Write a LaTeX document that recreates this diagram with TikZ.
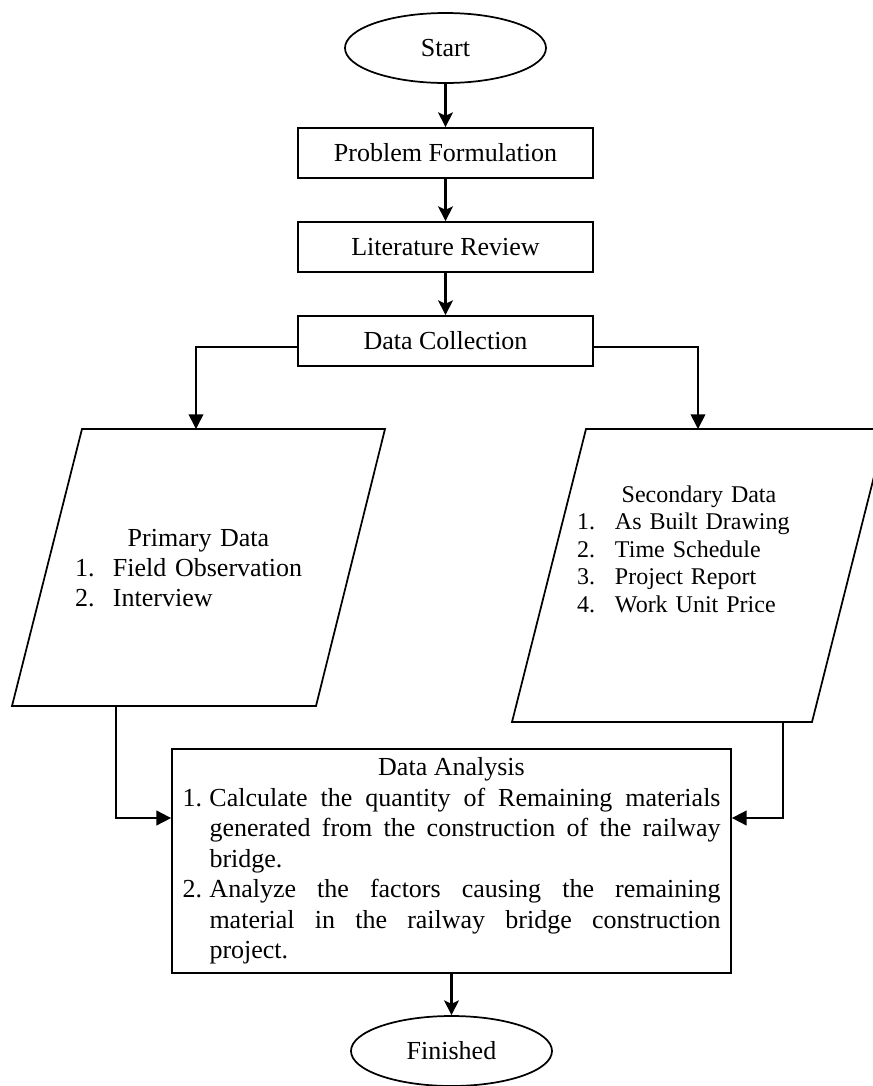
\documentclass[tikz,border=0pt]{standalone}
\usepackage{fontspec}
\setmainfont{Liberation Serif}
\usetikzlibrary{arrows.meta,shapes.geometric,calc}
\setlength{\parindent}{0pt}
\hyphenpenalty=10000
\tolerance=10000

\tikzset{
  flowbox/.style={draw,line width=1.3pt,rectangle,minimum width=221.25pt,minimum height=37.5pt,inner sep=0pt,font=\fontsize{19.5}{22.9}\selectfont},
  terminal/.style={draw,line width=1.3pt,ellipse,minimum width=150.75pt,minimum height=52.5pt,inner sep=0pt,font=\fontsize{19.5}{22.9}\selectfont},
  datashape/.style={line width=1.3pt,line join=miter},
  mainarrow/.style={line width=2pt,-{Stealth[length=11pt,width=11pt,inset=2.5pt]}},
  elbowarrow/.style={line width=1.3pt,-{Triangle[length=11pt,width=11pt]}},
}

\begin{document}
\begin{tikzpicture}[x=0.75pt,y=0.75pt,yscale=-1,xscale=1]
\useasboundingbox (0,0) rectangle (873,1086);
\clip (0,0) rectangle (873,1086);
\node [terminal] (start) at (445.5,48) {Start};
\node [flowbox] (problem) at (445.5,153) {Problem Formulation};
\node [flowbox] (literature) at (445.5,247) {Literature Review};
\node [flowbox] (collection) at (445.5,341) {Data Collection};
\draw [datashape] (82,429) -- (385,429) -- (316,706) -- (12,706) -- cycle;
\draw [datashape] (586,429) -- (886,429) -- (812,722) -- (512,722) -- cycle;
\coordinate (primin) at (196,429);
\coordinate (primout) at (116,706);
\coordinate (secin) at (698,429);
\coordinate (secout) at (783,722);
\node [text width=185.25pt,inner sep=0pt,font=\fontsize{19.5}{22.5}\selectfont] (primary) at (198.5,568.4) {{\centering Primary Data\par}
\makebox[28.5pt][l]{1.}Field Observation\par
\makebox[28.5pt][l]{2.}Interview};
\node [text width=183pt,inner sep=0pt,font=\fontsize{18}{20.6}\selectfont] (secondary) at (699,549) {{\centering Secondary Data\par}
\makebox[28.5pt][l]{1.}As Built Drawing\par
\makebox[28.5pt][l]{2.}Time Schedule\par
\makebox[28.5pt][l]{3.}Project Report\par
\makebox[28.5pt][l]{4.}Work Unit Price};
\node [draw,line width=1.3pt,minimum width=419.25pt,minimum height=168pt,inner sep=0pt,text width=403.5pt,align=justify,font=\fontsize{19.5}{22.875}\selectfont] (analysis) at (451.5,861) {{\centering Data Analysis\par}
\hangindent=20.25pt\hangafter=1 \makebox[20.25pt][l]{1.}Calculate the quantity of Remaining materials\linebreak generated from the construction of the railway\linebreak bridge.\par
\hangindent=20.25pt\hangafter=1 \makebox[20.25pt][l]{2.}Analyze the factors causing the remaining\linebreak material in the railway bridge construction\linebreak project.\par};
\node [terminal] (finished) at (451.5,1051) {Finished};
\draw [mainarrow] (start) -- (problem);
\draw [mainarrow] (problem) -- (literature);
\draw [mainarrow] (literature) -- (collection);
\draw [elbowarrow] ($(collection.west)+(0,6)$) -| (primin);
\draw [elbowarrow] ($(collection.east)+(0,6)$) -| (secin);
\draw [elbowarrow] (primout) |- ($(analysis.west)+(0,-43)$);
\draw [elbowarrow] (secout) |- ($(analysis.east)+(0,-43)$);
\draw [mainarrow] (analysis) -- (finished);
\end{tikzpicture}
\end{document}
